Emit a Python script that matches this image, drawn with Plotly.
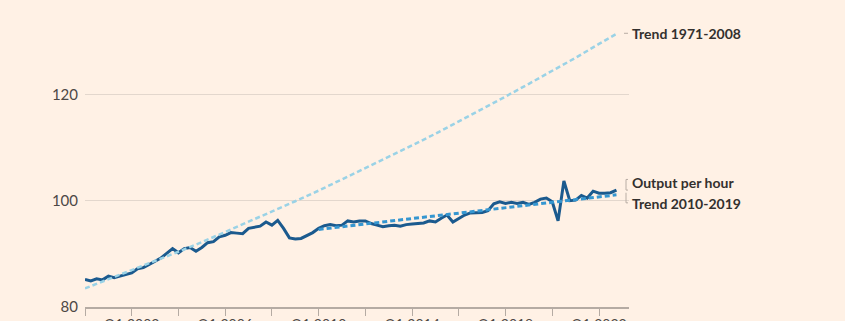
import pandas as pd
import plotly.graph_objects as go

# Output per hour, quarterly from Q1 2000 to Q4 2022 (index)
output_per_hour = [
    85.2, 84.9, 85.3, 85.1, 85.8, 85.5, 85.8, 86.1,
    86.4, 87.2, 87.4, 88.0, 88.6, 89.2, 90.1, 91.0,
    90.2, 91.0, 91.2, 90.5, 91.2, 92.1, 92.3, 93.2,
    93.5, 94.0, 93.9, 93.8, 94.8, 95.0, 95.2, 96.0,
    95.4, 96.3, 94.8, 93.0, 92.8, 92.9, 93.5, 94.0,
    94.8, 95.3, 95.5, 95.3, 95.4, 96.2, 96.0, 96.2,
    96.2, 95.7, 95.4, 95.1, 95.3, 95.4, 95.2, 95.5,
    95.6, 95.7, 95.8, 96.2, 96.0, 96.7, 97.3, 96.0,
    96.7, 97.3, 97.7, 97.8, 97.8, 98.1, 99.4, 99.8,
    99.5, 99.7, 99.5, 99.7, 99.3, 99.7, 100.3, 100.5,
    99.8, 96.2, 103.7, 100.0, 100.1, 101.0, 100.5, 101.8,
    101.4, 101.4, 101.5, 102.0,
]

# Trend 1971-2008 (read at each Q1, plus the last quarter)
trend_old_dates = [f"{y}-01-01" for y in range(2000, 2023)] + ["2022-10-01"]
trend_old = [
    83.5, 85.2, 86.9, 88.6, 90.4, 92.2, 94.1, 96.0, 97.9, 99.9,
    101.9, 104.0, 106.1, 108.2, 110.4, 112.6, 114.9, 117.2, 119.6,
    122.0, 124.4, 126.9, 129.5, 131.4,
]

# Trend 2010-2019
trend_new_dates = ["2010-01-01", "2016-07-01", "2022-10-01"]
trend_new = [94.6, 97.9, 101.1]

tick_dates = [f"{y}-01-01" for y in range(2000, 2023, 2)]
tick_text = ["", "Q1 2002", "", "Q1 2006", "", "Q1 2010", "", "Q1 2014", "", "Q1 2018", "", "Q1 2022"]

y_ticks = [80, 100, 120]

quarters = pd.date_range("2000-01-01", periods=len(output_per_hour), freq="QS")

BG = "#FFF1E5"
TEXT = "#33302E"

fig = go.Figure()
fig.add_trace(go.Scatter(x=quarters, y=output_per_hour, mode="lines",
                         line=dict(color="#1B5A8E", width=3), hoverinfo="skip"))
fig.add_trace(go.Scatter(x=trend_old_dates, y=trend_old, mode="lines",
                         line=dict(color="#9AD2E6", width=2.5, dash="5px,3px"), hoverinfo="skip"))
fig.add_trace(go.Scatter(x=trend_new_dates, y=trend_new, mode="lines",
                         line=dict(color="#3596D0", width=3, dash="5px,3px"), hoverinfo="skip"))

L, R = 85, 629
W = R - L

def px(x):
    return (x - L) / W

font_lbl = dict(family="Lato, sans-serif", size=14, color=TEXT, weight="bold")
fig.add_annotation(x=px(630), y=131.5, xref="paper", yref="y", text="Trend 1971-2008",
                   showarrow=False, xanchor="left", yanchor="middle", font=font_lbl)
fig.add_annotation(x=px(630), y=103.5, xref="paper", yref="y", text="Output per hour",
                   showarrow=False, xanchor="left", yanchor="middle", font=font_lbl)
fig.add_annotation(x=px(630), y=99.5, xref="paper", yref="y", text="Trend 2010-2019",
                   showarrow=False, xanchor="left", yanchor="middle", font=font_lbl)

gc = "#B8ADA4"
shapes = [
    dict(type="line", xref="paper", yref="y", x0=px(624), x1=px(628), y0=131.5, y1=131.5,
         line=dict(color=gc, width=1)),
    # bracket for output per hour
    dict(type="line", xref="paper", yref="y", x0=px(626), x1=px(626), y0=102.0, y1=104.0,
         line=dict(color=gc, width=1)),
    dict(type="line", xref="paper", yref="y", x0=px(626), x1=px(628), y0=104.0, y1=104.0,
         line=dict(color=gc, width=1)),
    dict(type="line", xref="paper", yref="y", x0=px(626), x1=px(628), y0=102.0, y1=102.0,
         line=dict(color=gc, width=1)),
    # bracket for trend 2010-2019
    dict(type="line", xref="paper", yref="y", x0=px(626), x1=px(626), y0=99.6, y1=101.5,
         line=dict(color=gc, width=1)),
    dict(type="line", xref="paper", yref="y", x0=px(626), x1=px(628), y0=99.6, y1=99.6,
         line=dict(color=gc, width=1)),
]
fig.update_layout(shapes=shapes)

fig.update_layout(
    width=845, height=321,
    autosize=False,
    margin=dict(l=L, r=845 - R, t=20, b=14, pad=0, autoexpand=False),
    paper_bgcolor=BG, plot_bgcolor=BG,
    showlegend=False,
    xaxis=dict(
        range=["2000-01-01", "2023-04-15"],
        tickmode="array", tickvals=tick_dates, ticktext=tick_text,
        ticks="outside", ticklen=7, tickcolor="#B5ABA3", tickwidth=1,
        showline=True, linecolor="#B5ABA3", linewidth=1.5,
        showgrid=False, zeroline=False, automargin=False,
        tickfont=dict(family="Lato, sans-serif", size=14, color="#4D4845"),
        ticklabelstandoff=-4,
    ),
    yaxis=dict(
        range=[80, 134],
        tickmode="array", tickvals=y_ticks,
        showgrid=True, gridcolor="#E3D7CD", gridwidth=1,
        zeroline=False, showline=False, ticks="", automargin=False,
        tickfont=dict(family="Lato, sans-serif", size=15, color="#4D4845"),
        ticklabelstandoff=6,
    ),
)

fig.write_html("out.html", config={"displayModeBar": False},
               post_script="document.body.style.margin='0';document.body.style.overflow='hidden';")
